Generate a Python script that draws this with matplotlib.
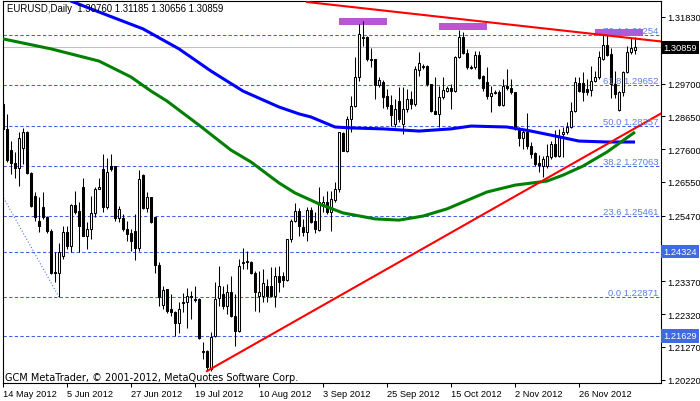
import matplotlib
matplotlib.use('Agg')
import matplotlib.pyplot as plt
from matplotlib.patches import Rectangle
import matplotlib.transforms as mtransforms
import numpy as np

plt.rcParams['font.family'] = ['Liberation Sans', 'DejaVu Sans']

title_text = "EURUSD,Daily  1.30760 1.31185 1.30656 1.30859"
copyright_text = "GCM MetaTrader, \u00a9 2001-2012, MetaQuotes Software Corp."

opens = [
    1.2905, 1.2825, 1.2757, 1.2716, 1.2700, 1.2764, 1.2815, 1.2684, 1.2610, 1.2530,
    1.2575, 1.2543, 1.2498, 1.2367, 1.2364, 1.2418, 1.2495, 1.2450, 1.2581, 1.2562,
    1.2639, 1.2482, 1.2505, 1.2556, 1.2633, 1.2697, 1.2575, 1.2706, 1.2706, 1.2540,
    1.2540, 1.2505, 1.2492, 1.2498, 1.2444, 1.2677, 1.2572, 1.2607, 1.2543, 1.2389,
    1.2261, 1.2313, 1.2249, 1.2239, 1.2204, 1.2268, 1.2271, 1.2290, 1.2281, 1.2281,
    1.2114, 1.2114, 1.2057, 1.2162, 1.2284, 1.2297, 1.2258, 1.2303, 1.2226, 1.2178,
    1.2396, 1.2399, 1.2399, 1.2364, 1.2290, 1.2290, 1.2322, 1.2322, 1.2290, 1.2354,
    1.2354, 1.2341, 1.2473, 1.2530, 1.2562, 1.2511, 1.2495, 1.2565, 1.2530, 1.2501,
    1.2578, 1.2591, 1.2559, 1.2597, 1.2633, 1.2812, 1.2754, 1.2857, 1.2898, 1.2991,
    1.3116, 1.3119, 1.3045, 1.3049, 1.2965, 1.2975, 1.2930, 1.2901, 1.2841, 1.2914,
    1.2841, 1.2889, 1.2921, 1.2905, 1.3013, 1.3023, 1.3026, 1.2969, 1.2882, 1.2873,
    1.2927, 1.2946, 1.2956, 1.2946, 1.3055, 1.3119, 1.3068, 1.3020, 1.3023, 1.3061,
    1.2994, 1.2975, 1.2930, 1.2940, 1.2943, 1.2901, 1.2962, 1.2956, 1.2943, 1.2825,
    1.2796, 1.2815, 1.2770, 1.2748, 1.2716, 1.2706, 1.2706, 1.2735, 1.2777, 1.2738,
    1.2809, 1.2815, 1.2831, 1.2882, 1.2972, 1.2972, 1.2953, 1.2949, 1.2978, 1.2991,
    1.3049, 1.3093, 1.3065, 1.2969, 1.2885, 1.2943, 1.3007, 1.3071, 1.30760,
]
highs = [
    1.2921, 1.2873, 1.2786, 1.2751, 1.2815, 1.2828, 1.2818, 1.2687, 1.2623, 1.2607,
    1.2623, 1.2546, 1.2505, 1.2431, 1.2460, 1.2514, 1.2514, 1.2585, 1.2626, 1.2591,
    1.2668, 1.2527, 1.2610, 1.2639, 1.2668, 1.2745, 1.2732, 1.2745, 1.2706, 1.2578,
    1.2553, 1.2530, 1.2505, 1.2553, 1.2693, 1.2681, 1.2623, 1.2607, 1.2543, 1.2399,
    1.2322, 1.2313, 1.2297, 1.2242, 1.2271, 1.2300, 1.2316, 1.2306, 1.2322, 1.2284,
    1.2143, 1.2117, 1.2175, 1.2335, 1.2386, 1.2322, 1.2329, 1.2354, 1.2297, 1.2409,
    1.2444, 1.2434, 1.2402, 1.2370, 1.2370, 1.2377, 1.2345, 1.2383, 1.2383, 1.2386,
    1.2367, 1.2473, 1.2537, 1.2588, 1.2572, 1.2537, 1.2575, 1.2575, 1.2559, 1.2639,
    1.2610, 1.2626, 1.2626, 1.2655, 1.2815, 1.2815, 1.2866, 1.2930, 1.3055, 1.3161,
    1.3170, 1.3122, 1.3084, 1.3049, 1.2991, 1.2981, 1.2953, 1.2933, 1.2921, 1.2959,
    1.2959, 1.2953, 1.2946, 1.3026, 1.3071, 1.3033, 1.3029, 1.2969, 1.2991, 1.2962,
    1.2991, 1.2962, 1.2969, 1.3058, 1.3141, 1.3135, 1.3081, 1.3029, 1.3074, 1.3074,
    1.2997, 1.3023, 1.2962, 1.2949, 1.2949, 1.2985, 1.3017, 1.2985, 1.2943, 1.2831,
    1.2825, 1.2876, 1.2783, 1.2751, 1.2741, 1.2738, 1.2777, 1.2786, 1.2821, 1.2825,
    1.2831, 1.2847, 1.2911, 1.2991, 1.2991, 1.3007, 1.2985, 1.3026, 1.3010, 1.3074,
    1.3125, 1.3125, 1.3084, 1.3010, 1.2946, 1.3010, 1.3090, 1.3116, 1.31185,
]
lows = [
    1.2815, 1.2719, 1.2681, 1.2668, 1.2642, 1.2713, 1.2681, 1.2575, 1.2530, 1.2495,
    1.2537, 1.2492, 1.2361, 1.2335, 1.2287, 1.2409, 1.2441, 1.2431, 1.2553, 1.2431,
    1.2482, 1.2441, 1.2473, 1.2543, 1.2633, 1.2559, 1.2569, 1.2690, 1.2530, 1.2527,
    1.2498, 1.2466, 1.2434, 1.2405, 1.2434, 1.2569, 1.2559, 1.2524, 1.2364, 1.2258,
    1.2249, 1.2236, 1.2226, 1.2162, 1.2172, 1.2239, 1.2188, 1.2217, 1.2271, 1.2153,
    1.2089, 1.2050, 1.2050, 1.2159, 1.2258, 1.2249, 1.2233, 1.2223, 1.2130, 1.2175,
    1.2377, 1.2377, 1.2361, 1.2242, 1.2239, 1.2271, 1.2271, 1.2287, 1.2255, 1.2303,
    1.2319, 1.2338, 1.2463, 1.2527, 1.2482, 1.2482, 1.2466, 1.2524, 1.2492, 1.2498,
    1.2559, 1.2553, 1.2498, 1.2591, 1.2623, 1.2754, 1.2751, 1.2815, 1.2895, 1.2978,
    1.3090, 1.3042, 1.3023, 1.2921, 1.2959, 1.2892, 1.2889, 1.2834, 1.2831, 1.2847,
    1.2809, 1.2879, 1.2889, 1.2898, 1.2994, 1.3017, 1.2962, 1.2879, 1.2873, 1.2831,
    1.2921, 1.2943, 1.2889, 1.2943, 1.3052, 1.3065, 1.3017, 1.3017, 1.3017, 1.2985,
    1.2946, 1.2921, 1.2879, 1.2937, 1.2898, 1.2898, 1.2949, 1.2937, 1.2821, 1.2770,
    1.2761, 1.2761, 1.2732, 1.2706, 1.2687, 1.2671, 1.2700, 1.2729, 1.2735, 1.2735,
    1.2735, 1.2809, 1.2828, 1.2879, 1.2943, 1.2914, 1.2933, 1.2930, 1.2975, 1.2985,
    1.3045, 1.3058, 1.2924, 1.2924, 1.2882, 1.2930, 1.3004, 1.3065, 1.30656,
]
closes = [
    1.2825, 1.2725, 1.2716, 1.2700, 1.2796, 1.2815, 1.2684, 1.2578, 1.2543, 1.2514,
    1.2543, 1.2498, 1.2364, 1.2364, 1.2431, 1.2495, 1.2450, 1.2581, 1.2559, 1.2514,
    1.2482, 1.2505, 1.2556, 1.2633, 1.2639, 1.2575, 1.2687, 1.2697, 1.2540, 1.2569,
    1.2505, 1.2489, 1.2466, 1.2444, 1.2665, 1.2572, 1.2607, 1.2527, 1.2389, 1.2287,
    1.2309, 1.2242, 1.2239, 1.2204, 1.2249, 1.2271, 1.2290, 1.2287, 1.2277, 1.2156,
    1.2111, 1.2063, 1.2159, 1.2281, 1.2322, 1.2258, 1.2303, 1.2226, 1.2178, 1.2386,
    1.2399, 1.2402, 1.2364, 1.2303, 1.2303, 1.2332, 1.2290, 1.2290, 1.2354, 1.2335,
    1.2341, 1.2473, 1.2530, 1.2562, 1.2514, 1.2495, 1.2565, 1.2527, 1.2505, 1.2591,
    1.2591, 1.2559, 1.2601, 1.2633, 1.2815, 1.2754, 1.2857, 1.2898, 1.2991, 1.3129,
    1.3119, 1.3049, 1.3049, 1.2965, 1.2981, 1.2927, 1.2898, 1.2869, 1.2889, 1.2857,
    1.2889, 1.2921, 1.2905, 1.3017, 1.3036, 1.3026, 1.2969, 1.2882, 1.2873, 1.2927,
    1.2949, 1.2956, 1.2946, 1.3055, 1.3119, 1.3068, 1.3023, 1.3023, 1.3061, 1.2988,
    1.2956, 1.2930, 1.2940, 1.2943, 1.2901, 1.2962, 1.2956, 1.2943, 1.2825, 1.2796,
    1.2815, 1.2770, 1.2745, 1.2713, 1.2709, 1.2729, 1.2738, 1.2777, 1.2738, 1.2802,
    1.2815, 1.2831, 1.2882, 1.2975, 1.2946, 1.2943, 1.2943, 1.2978, 1.2991, 1.3055,
    1.3093, 1.3061, 1.2969, 1.2937, 1.2943, 1.3007, 1.3071, 1.3084, 1.30859,
]

date_tick_bars = [0, 16, 32, 48, 64, 80, 96, 112, 128, 144]
date_tick_labels = ["14 May 2012", "5 Jun 2012", "27 Jun 2012", "19 Jul 2012", "10 Aug 2012",
                    "3 Sep 2012", "25 Sep 2012", "15 Oct 2012", "2 Nov 2012", "26 Nov 2012"]

price_ticks = [1.31830, 1.29700, 1.28650, 1.27600, 1.26550, 1.25470, 1.24420,
               1.23370, 1.22320, 1.21270, 1.20220]
# the 1.24420 label sits hidden beneath the 1.24324 level box
price_tick_labels = ["1.31830", "1.29700", "1.28650", "1.27600", "1.26550", "1.25470", "",
                     "1.23370", "1.22320", "1.21270", "1.20220"]

# slow moving average (blue) sampled along the line
ma_slow_bars = [12, 16, 24, 35, 44, 52, 60, 69, 74, 77, 83, 87, 95, 104, 112, 117, 126, 132, 137, 144, 151, 158]
ma_slow_vals = [1.3257, 1.3239, 1.3199, 1.3145, 1.3081, 1.3010, 1.2946, 1.2895, 1.2873, 1.2863, 1.2831,
                1.2828, 1.2825, 1.2818, 1.2825, 1.2834, 1.2831, 1.2818, 1.2805, 1.2786, 1.2783, 1.2783]
# faster moving average (green)
ma_fast_bars = [0, 12, 24, 32, 37, 41, 49, 57, 62, 69, 73, 79, 85, 93, 99, 105, 111, 121, 128, 136, 140, 145, 151, 158]
ma_fast_vals = [1.3113, 1.3081, 1.3042, 1.2991, 1.2946, 1.2914, 1.2837, 1.2757, 1.2719, 1.2652, 1.2620, 1.2585,
                1.2556, 1.2537, 1.2533, 1.2546, 1.2569, 1.2623, 1.2645, 1.2658, 1.2677, 1.2706, 1.2751, 1.2815]

fib_levels = ["0.0", "23.6", "38.2", "50.0", "61.8", "76.4"]
fib_prices = [1.22871, 1.25461, 1.27063, 1.28357, 1.29652, 1.31254]
fib_anchor_bars = [-34, 14]
fib_anchor_prices = [1.33846, 1.22871]

hline_prices = [1.24324, 1.21629]
current_price = 1.30859

upper_trend_bars = [76, 158]
upper_trend_prices = [1.3231, 1.3114]
lower_trend_bars = [51, 158]
lower_trend_prices = [1.2050, 1.2827]

rect_bars = [(84, 96), (109, 121), (148, 160)]
rect_prices = [(1.3157, 1.3180), (1.3141, 1.3164), (1.3122, 1.3145)]

# ---------------------------------------------------------------
W, H = 700, 402
fig = plt.figure(figsize=(W / 100, H / 100), dpi=100)
ax_l, ax_r, ax_t, ax_b = 2.5, 661, 2, 384
ax = fig.add_axes([ax_l / W, 1 - ax_b / H, (ax_r - ax_l) / W, (ax_b - ax_t) / H])
ax.set_facecolor('white')
fig.patch.set_facecolor('white')

xmin, xmax = -0.125, 164.5
ymin, ymax = 1.20118, 1.32342
ax.set_xlim(xmin, xmax)
ax.set_ylim(ymin, ymax)

n = len(opens)
x = np.arange(n)
o = np.array(opens); h = np.array(highs); l = np.array(lows); c = np.array(closes)

fib_col = '#3f62de'
fib_txt = '#5a80e6'

# horizontal fib / level lines
for p in fib_prices + hline_prices:
    ax.axhline(p, color=fib_col, lw=0.75, ls=(0, (3.2, 2.2)), zorder=1)
ax.axhline(current_price, color='#c0c0c0', lw=0.75, zorder=1)

# fib anchor dotted line
ax.plot(fib_anchor_bars, fib_anchor_prices, color=fib_col, lw=0.75, ls=(0, (1, 2)), zorder=1)

# rectangles
for (b0, b1), (p0, p1) in zip(rect_bars, rect_prices):
    ax.add_patch(Rectangle((b0, p0), b1 - b0, p1 - p0, facecolor='#ba55d3', edgecolor='none', zorder=1.5))

# candles
ax.vlines(x, l, h, color='black', lw=0.75, zorder=3)
up = c >= o
body_lo = np.minimum(o, c)
body_h = np.abs(c - o)
ax.bar(x[up], body_h[up], bottom=body_lo[up], width=0.55, facecolor='white', edgecolor='black', lw=0.75, zorder=4)
ax.bar(x[~up], body_h[~up], bottom=body_lo[~up], width=0.55, facecolor='black', edgecolor='black', lw=0.75, zorder=4)

# moving averages
ax.plot(ma_slow_bars, ma_slow_vals, color='#0000ff', lw=2.2, zorder=5, solid_capstyle='butt')
ax.plot(ma_fast_bars, ma_fast_vals, color='#008000', lw=2.2, zorder=5, solid_capstyle='butt')

# trend lines (rays to the right)
for bars, prices in ((upper_trend_bars, upper_trend_prices), (lower_trend_bars, lower_trend_prices)):
    slope = (prices[1] - prices[0]) / (bars[1] - bars[0])
    xe = xmax + 1
    ax.plot([bars[0], xe], [prices[0], prices[0] + slope * (xe - bars[0])], color='#ff0000', lw=1.5, zorder=6)

# fib labels
trans = mtransforms.blended_transform_factory(ax.transAxes, ax.transData)
for lev, p in zip(fib_levels, fib_prices):
    ax.text(0.9965, p, f"{lev} {p:.5f}", transform=trans, ha='right', va='bottom', fontsize=6.8,
            color=fib_txt, zorder=7)

# axes styling
for s in ax.spines.values():
    s.set_color('black'); s.set_linewidth(0.8)
ax.yaxis.tick_right()
ax.set_yticks(price_ticks)
ax.set_yticklabels(price_tick_labels)
ax.set_xticks(date_tick_bars)
ax.set_xticklabels(date_tick_labels, ha='left')
ax.tick_params(axis='both', direction='out', length=3, width=0.75, colors='black', labelsize=6.7)
ax.tick_params(axis='y', pad=1.5)
ax.tick_params(axis='x', pad=1.5)

# right axis boxes
ax.text(1.003, current_price, f"{current_price:.5f}", transform=trans, ha='left', va='center', fontsize=6.7,
        color='white', bbox=dict(boxstyle='square,pad=0.25', fc='black', ec='none'), zorder=10, clip_on=False)
for p in hline_prices:
    ax.text(1.003, p, f"{p:.5f}", transform=trans, ha='left', va='center', fontsize=6.7,
            color='white', bbox=dict(boxstyle='square,pad=0.25', fc='#4169e1', ec='none'), zorder=10, clip_on=False)

# title and copyright
ax.text(0.0068, 0.996, title_text, transform=ax.transAxes, ha='left', va='top', fontsize=6.9, color='black', zorder=8)
ax.text(0.004, 0.008, copyright_text, transform=ax.transAxes, ha='left', va='baseline', fontsize=7.0,
        color='black', zorder=8, family=['DejaVu Sans'])

fig.savefig('out.png', dpi=100, facecolor='white')
